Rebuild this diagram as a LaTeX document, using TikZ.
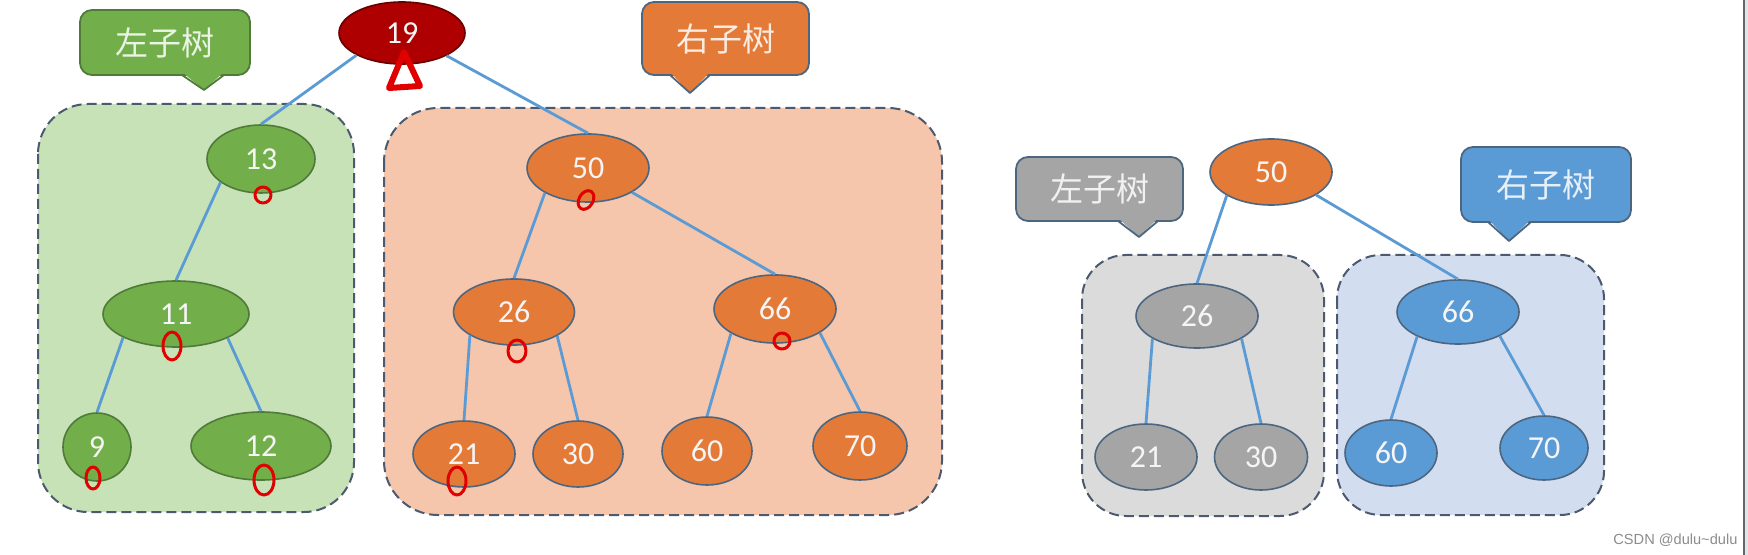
\documentclass[tikz,border=0pt]{standalone}
\usepackage{fontspec}
\setmainfont{Carlito}
\newfontfamily\cjk{Noto Sans CJK SC}
\newfontfamily\wmfont{Liberation Sans}
\usetikzlibrary{shapes.geometric}
\definecolor{gnode}{HTML}{72AF4A}
\definecolor{gbox}{HTML}{C8E2B8}
\definecolor{onode}{HTML}{E37A38}
\definecolor{obox}{HTML}{F5C6AB}
\definecolor{rnode}{HTML}{AE0000}
\definecolor{ynode}{HTML}{A5A5A5}
\definecolor{ybox}{HTML}{DBDBDB}
\definecolor{bnode}{HTML}{5B9BD5}
\definecolor{bbox}{HTML}{D3DDF0}
\definecolor{nborder}{HTML}{4D6680}
\definecolor{gborder}{HTML}{4F7A3A}
\definecolor{edgec}{HTML}{5B9BD5}
\definecolor{dashc}{HTML}{4B5A6E}
\definecolor{redc}{HTML}{E00000}
\begin{document}
\begin{tikzpicture}[x=0.5pt,y=-0.5pt,
  tn/.style={ellipse, inner sep=0pt, line width=0.8pt, draw=nborder,
    text=white!96!black, font=\fontsize{16}{16}\selectfont},
  gn/.style={tn, fill=gnode, draw=gborder},
  on/.style={tn, fill=onode},
  yn/.style={tn, fill=ynode},
  bn/.style={tn, fill=bnode},
  edge/.style={draw=edgec, line width=1.4pt},
  grp/.style={dashc, line width=1pt, dash pattern=on 5pt off 2.5pt},
  callbox/.style={rectangle, rounded corners=6pt, line width=0.9pt, inner sep=0pt,
    font=\cjk\fontsize{16.5}{16.5}\selectfont},
  redmark/.style={draw=redc, line width=1.5pt, line join=round, line cap=round}]
\useasboundingbox (0,0) rectangle (1748,555);
\fill[white] (0,0) rectangle (1748,555);
% right screen edge
\fill[cyan!15!gray!25] (1745,0) rectangle (1748,555);
\draw[gray!80!black, line width=1pt] (1744,0) -- (1744,555);

% group boxes
\draw[grp, fill=gbox, rounded corners=25pt] (38,104) rectangle (354,512);
\draw[grp, fill=obox, rounded corners=27pt] (384,108) rectangle (942,515);
\draw[grp, fill=ybox, rounded corners=22pt] (1082,255) rectangle (1324,516);
\draw[grp, fill=bbox, rounded corners=22pt] (1337,255) rectangle (1604,515);

% callouts
\node[callbox, fill=gnode, draw=gborder, text=gnode!15!white, minimum width=85pt, minimum height=32.5pt] (cg) at (165,42.5) {左子树};
\fill[gnode] (182,72) -- (204,90) -- (224,72) -- cycle;
\draw[gborder, line width=0.9pt, line join=round] (182,75) -- (204,90) -- (224,75);

\node[callbox, fill=onode, draw=nborder, text=onode!15!white, minimum width=83.5pt, minimum height=36.5pt] (co) at (725.5,38.5) {右子树};
\fill[onode] (670,72) -- (690,93) -- (710,72) -- cycle;
\draw[nborder, line width=0.9pt, line join=round] (670,75) -- (690,93) -- (710,75);

\node[callbox, fill=ynode, draw=nborder, text=ynode!15!white, minimum width=83.5pt, minimum height=32pt] (cy) at (1099.5,189) {左子树};
\fill[ynode] (1118,218) -- (1139,237) -- (1158,218) -- cycle;
\draw[nborder, line width=0.9pt, line join=round] (1118,221) -- (1139,237) -- (1158,221);

\node[callbox, fill=bnode, draw=nborder, text=bnode!15!white, minimum width=85pt, minimum height=37.5pt] (cb) at (1546,184.5) {右子树};
\fill[bnode] (1488,219) -- (1509,241) -- (1531,219) -- cycle;
\draw[nborder, line width=0.9pt, line join=round] (1488,222) -- (1509,241) -- (1531,222);

% left big tree
\node[tn, fill=rnode, draw=rnode!60!black, minimum width=63pt, minimum height=31pt] (r19) at (402,33) {19};
\node[gn, minimum width=54pt, minimum height=34pt] (a13) at (261,159) {13};
\node[gn, minimum width=73pt, minimum height=33pt] (a11) at (176,314) {11};
\node[gn, minimum width=34pt, minimum height=34pt] (a9) at (97,447) {9};
\node[gn, minimum width=70pt, minimum height=34pt] (a12) at (261,446) {12};
\node[on, minimum width=61pt, minimum height=34pt] (b50) at (588,168) {50};
\node[on, minimum width=60.5pt, minimum height=33pt] (b26) at (514,312) {26};
\node[on, minimum width=61pt, minimum height=34pt] (b66) at (775,309) {66};
\node[on, minimum width=51pt, minimum height=33pt] (b21) at (464,454) {21};
\node[on, minimum width=45pt, minimum height=33pt] (b30) at (578,454) {30};
\node[on, minimum width=45pt, minimum height=34pt] (b60) at (707,451) {60};
\node[on, minimum width=47pt, minimum height=34pt] (b70) at (860,446) {70};

\draw[edge] (r19.206) -- (a13.north);
\draw[edge] (r19.333) -- (b50.north);
\draw[edge] (a13.210) -- (a11.north);
\draw[edge] (a11.204) -- (a9.north);
\draw[edge] (a11.335) -- (a12.north);
\draw[edge] (b50.210) -- (b26.north);
\draw[edge] (b50.331) -- (b66.north);
\draw[edge] (b26.208) -- (b21.north);
\draw[edge] (b26.331) -- (b30.north);
\draw[edge] (b66.209) -- (b60.north);
\draw[edge] (b66.332) -- (b70.north);

% right small tree
\node[on, minimum width=61pt, minimum height=33pt] (c50) at (1271,172) {50};
\node[yn, minimum width=61pt, minimum height=32pt] (c26) at (1197,316) {26};
\node[yn, minimum width=51pt, minimum height=33pt] (c21) at (1146,457) {21};
\node[yn, minimum width=46.5pt, minimum height=33pt] (c30) at (1261,457) {30};
\node[bn, minimum width=61pt, minimum height=32pt] (c66) at (1458,312) {66};
\node[bn, minimum width=46pt, minimum height=33pt] (c60) at (1391,453) {60};
\node[bn, minimum width=44pt, minimum height=32pt] (c70) at (1544,448) {70};

\draw[edge] (c50.208) -- (c26.north);
\draw[edge] (c50.333) -- (c66.north);
\draw[edge] (c26.207) -- (c21.north);
\draw[edge] (c26.333) -- (c30.north);
\draw[edge] (c66.211) -- (c60.north);
\draw[edge] (c66.330) -- (c70.north);

% hand-drawn red marks
\draw[redmark, line width=3pt] (404,52) -- (389,88) -- (420,86) -- cycle;
\draw[redmark] (263,195) ellipse [x radius=8, y radius=8];
\draw[redmark] (172,346) ellipse [x radius=9, y radius=14];
\draw[redmark] (93,478) ellipse [x radius=7, y radius=11];
\draw[redmark] (264,480) ellipse [x radius=10, y radius=15];
\draw[redmark] (457,481) ellipse [x radius=9, y radius=14];
\draw[redmark, rotate around={-30:(586,200)}] (586,200) ellipse [x radius=7, y radius=10];
\draw[redmark] (517,351) ellipse [x radius=9, y radius=11];
\draw[redmark] (782,341) ellipse [x radius=8, y radius=8];

% watermark
\node[anchor=west, inner sep=0pt, text=gray!90, font=\wmfont\fontsize{7.3}{7.3}\selectfont] (wm) at (1613,540) {CSDN @dulu\char`~dulu};
\end{tikzpicture}
\end{document}
